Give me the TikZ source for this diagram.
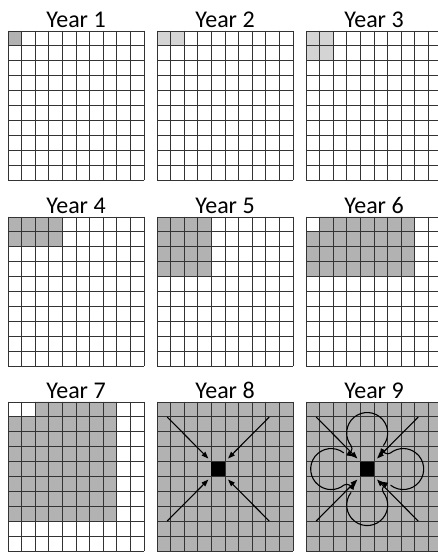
\documentclass[tikz,border=0pt]{standalone}
\usepackage{fontspec}
\setmainfont{Carlito}
\usetikzlibrary{arrows.meta}
\definecolor{cellgray}{gray}{0.70}
\definecolor{cellpale}{gray}{0.83}
\def\cw{13.6}
\def\ch{14.9}
\newcommand{\fieldgrid}{%
  \foreach \i in {0,...,10} {
    \draw[gridline] (\i*\cw,0) -- (\i*\cw,-10*\ch);
    \draw[gridline] (0,-\i*\ch) -- (10*\cw,-\i*\ch);
  }}

\begin{document}
\begin{tikzpicture}[x=1pt, y=1pt,
    gridline/.style={draw=black!80,line width=0.8pt,line cap=rect},
    year/.style={font=\fontsize{24}{28}\selectfont,anchor=base},
    flow/.style={-{Triangle[length=7pt,width=5pt]},line width=1.1pt},
    hub/.style={fill=black,inner sep=0pt,minimum width=13.6pt,minimum height=14.9pt}]
  \useasboundingbox (0,0) rectangle (438,555);
  % top left corners of the nine fields
  \coordinate (p1) at (8,524);
  \coordinate (p2) at (157,524);
  \coordinate (p3) at (306,524);
  \coordinate (p4) at (8,338);
  \coordinate (p5) at (157,338);
  \coordinate (p6) at (306,338);
  \coordinate (p7) at (8,153);
  \coordinate (p8) at (157,153);
  \coordinate (p9) at (306,153);

  \begin{scope}[shift={(p1)}]
    \fill[cellgray] (0,0) rectangle (\cw,-\ch);
    \fieldgrid
    \node[year] (t1) at (5*\cw,3.5) {Year 1};
  \end{scope}
  \begin{scope}[shift={(p2)}]
    \fill[cellpale] (0,0) rectangle (2*\cw,-\ch);
    \fieldgrid
    \node[year] (t2) at (5*\cw,3.5) {Year 2};
  \end{scope}
  \begin{scope}[shift={(p3)}]
    \fill[cellpale] (0,0) rectangle (2*\cw,-2*\ch);
    \fieldgrid
    \node[year] (t3) at (5*\cw,3.5) {Year 3};
  \end{scope}
  \begin{scope}[shift={(p4)}]
    \fill[cellgray] (0,0) rectangle (4*\cw,-2*\ch);
    \fieldgrid
    \node[year] (t4) at (5*\cw,3.5) {Year 4};
  \end{scope}
  \begin{scope}[shift={(p5)}]
    \fill[cellgray] (0,0) rectangle (4*\cw,-4*\ch);
    \fieldgrid
    \node[year] (t5) at (5*\cw,3.5) {Year 5};
  \end{scope}
  \begin{scope}[shift={(p6)}]
    \fill[cellgray] (\cw,0) rectangle (8*\cw,-\ch) (0,-\ch) rectangle (8*\cw,-4*\ch);
    \fieldgrid
    \node[year] (t6) at (5*\cw,3.5) {Year 6};
  \end{scope}
  \begin{scope}[shift={(p7)}]
    \fill[cellgray] (2*\cw,0) rectangle (8*\cw,-\ch) (0,-\ch) rectangle (8*\cw,-8*\ch);
    \fieldgrid
    \node[year] (t7) at (5*\cw,3.5) {Year 7};
  \end{scope}

  % year 8: inflow to the centre cell
  \begin{scope}[shift={(p8)}]
    \fill[cellgray] (0,0) rectangle (10*\cw,-10*\ch);
    \fieldgrid
    \node[year] (t8) at (5*\cw,3.5) {Year 8};
    \node[hub] (hub8) at (4.5*\cw,-4.5*\ch) {};
    \coordinate (ul8) at ([shift={(-51,52)}]hub8.center);
    \coordinate (ur8) at ([shift={(51,52)}]hub8.center);
    \coordinate (ll8) at ([shift={(-51,-52)}]hub8.center);
    \coordinate (lr8) at ([shift={(51,-52)}]hub8.center);
    \draw[flow,shorten >=4pt] (ul8) -- (hub8.north west);
    \draw[flow,shorten >=4pt] (ur8) -- (hub8.north east);
    \draw[flow,shorten >=4pt] (ll8) -- (hub8.south west);
    \draw[flow,shorten >=4pt] (lr8) -- (hub8.south east);
  \end{scope}

  % year 9: inflow plus four loops
  \begin{scope}[shift={(p9)}]
    \fill[cellgray] (0,0) rectangle (10*\cw,-10*\ch);
    \fieldgrid
    \node[year] (t9) at (5*\cw,3.5) {Year 9};
    \node[hub] (hub9) at (4.5*\cw,-4.5*\ch) {};
    \coordinate (ul9) at ([shift={(-51,52)}]hub9.center);
    \coordinate (ur9) at ([shift={(51,52)}]hub9.center);
    \coordinate (ll9) at ([shift={(-51,-52)}]hub9.center);
    \coordinate (lr9) at ([shift={(51,-52)}]hub9.center);
    \draw[flow,shorten >=4pt] (ul9) -- (hub9.north west);
    \draw[flow,shorten >=4pt] (ur9) -- (hub9.north east);
    \draw[flow,shorten >=4pt] (ll9) -- (hub9.south west);
    \draw[flow,shorten >=4pt] (lr9) -- (hub9.south east);
    \begin{scope}[shift={(hub9.center)}]
      \foreach \a in {0,90,180,270} {
        \begin{scope}[rotate=\a]
          \coordinate (tail\a) at (16.15,23.4);
          \coordinate (tip\a) at (-13.5,12.5);
          \draw[flow] (tail\a) arc[start angle=-38,end angle=218,radius=20.5]
            to[out=308,in=150] (tip\a);
        \end{scope}
      }
    \end{scope}
  \end{scope}
\end{tikzpicture}
\end{document}
